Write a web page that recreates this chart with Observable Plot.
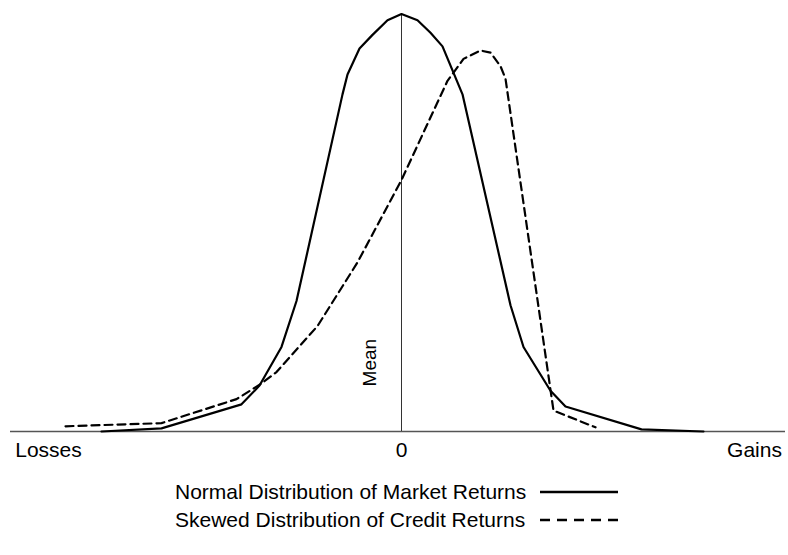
<!DOCTYPE html>
<html>
<head>
<meta charset="utf-8">
<script src="https://cdn.jsdelivr.net/npm/d3@7"></script>
<script src="https://cdn.jsdelivr.net/npm/@observablehq/plot@0.6"></script>
<style>
  html, body { margin: 0; padding: 0; background: #fff; }
  body { width: 788px; height: 555px; overflow: hidden; font-family: "Liberation Sans", Arial, Helvetica, sans-serif; color: #000; }
  #legend {
    display: grid;
    grid-template-columns: max-content 78px;
    column-gap: 14px;
    margin-left: 175px;
    margin-top: 8px;
    font-size: 21px;
    line-height: 28px;
  }
  #legend svg { display: block; margin-top: 12px; }
</style>
</head>
<body>
<div id="chart"></div>
<div id="legend"></div>
<script>
// Normal distribution of market returns (x in return units, y density)
const normalX = [-3.0, -2.40, -1.60, -1.42, -1.20, -1.05, -0.59, -0.54, -0.42, -0.29, -0.14, 0.0, 0.16, 0.29, 0.41, 0.61, 1.09, 1.22, 1.49, 1.64, 2.40, 3.02];
const normalY = [0.000, 0.003, 0.026, 0.044, 0.081, 0.125, 0.323, 0.342, 0.367, 0.380, 0.394, 0.400, 0.394, 0.382, 0.369, 0.323, 0.121, 0.081, 0.039, 0.024, 0.002, 0.000];

// Skewed distribution of credit returns
const skewX = [-3.36, -2.40, -1.65, -1.40, -1.25, -0.84, -0.44, 0.0, 0.46, 0.62, 0.79, 0.89, 0.99, 1.04, 1.52, 1.94];
const skewY = [0.005, 0.008, 0.031, 0.046, 0.057, 0.101, 0.162, 0.241, 0.336, 0.357, 0.365, 0.363, 0.350, 0.338, 0.020, 0.004];

// Axis tick labels
const tickValues = [-3.53, 0, 3.53];
const tickLabels = ["Losses", "0", "Gains"];

const seriesNames = ["Normal Distribution of Market Returns", "Skewed Distribution of Credit Returns"];
const annotation = ["Mean"];

const normal = normalX.map((x, i) => ({x, y: normalY[i]}));
const skewed = skewX.map((x, i) => ({x, y: skewY[i]}));
const labelFor = new Map(tickValues.map((v, i) => [v, tickLabels[i]]));

const font = '"Liberation Sans", Arial, Helvetica, sans-serif';

const chart = Plot.plot({
  width: 788,
  height: 470,
  marginLeft: 10,
  marginRight: 3,
  marginTop: 13.5,
  marginBottom: 39,
  x: {domain: [-3.91, 3.84], axis: null},
  y: {domain: [0, 0.4], axis: null},
  style: {fontFamily: font, fontSize: "21px", background: "#fff", color: "#000"},
  marks: [
    Plot.ruleY([0], {stroke: "#555", strokeWidth: 1.5}),
    Plot.ruleX([0], {y1: 0, y2: 0.4, stroke: "#333", strokeWidth: 1}),
    Plot.line(normal, {x: "x", y: "y", stroke: "#000", strokeWidth: 2.2, strokeLinejoin: "round"}),
    Plot.line(skewed, {x: "x", y: "y", stroke: "#000", strokeWidth: 2.2, strokeDasharray: "8,5", strokeLinejoin: "round"}),
    Plot.axisX({ticks: tickValues, tickFormat: d => labelFor.get(d), tickSize: 0, tickPadding: 11, fontSize: 21, label: null}),
    Plot.text(annotation, {x: () => -0.32, y: () => 0.066, text: d => d, rotate: -90, fontSize: 19, fill: "#000"})
  ]
});
document.getElementById("chart").appendChild(chart);

// Legend
const legend = document.getElementById("legend");
const dashes = [null, "10,7"];
seriesNames.forEach((name, i) => {
  const span = document.createElement("span");
  span.textContent = name;
  legend.appendChild(span);
  const svg = d3.create("svg").attr("width", 78).attr("height", 4);
  svg.append("line").attr("x1", 0).attr("x2", 78).attr("y1", 2).attr("y2", 2)
    .attr("stroke", "#000").attr("stroke-width", 2.5)
    .attr("stroke-dasharray", dashes[i]);
  legend.appendChild(svg.node());
});
</script>
</body>
</html>
